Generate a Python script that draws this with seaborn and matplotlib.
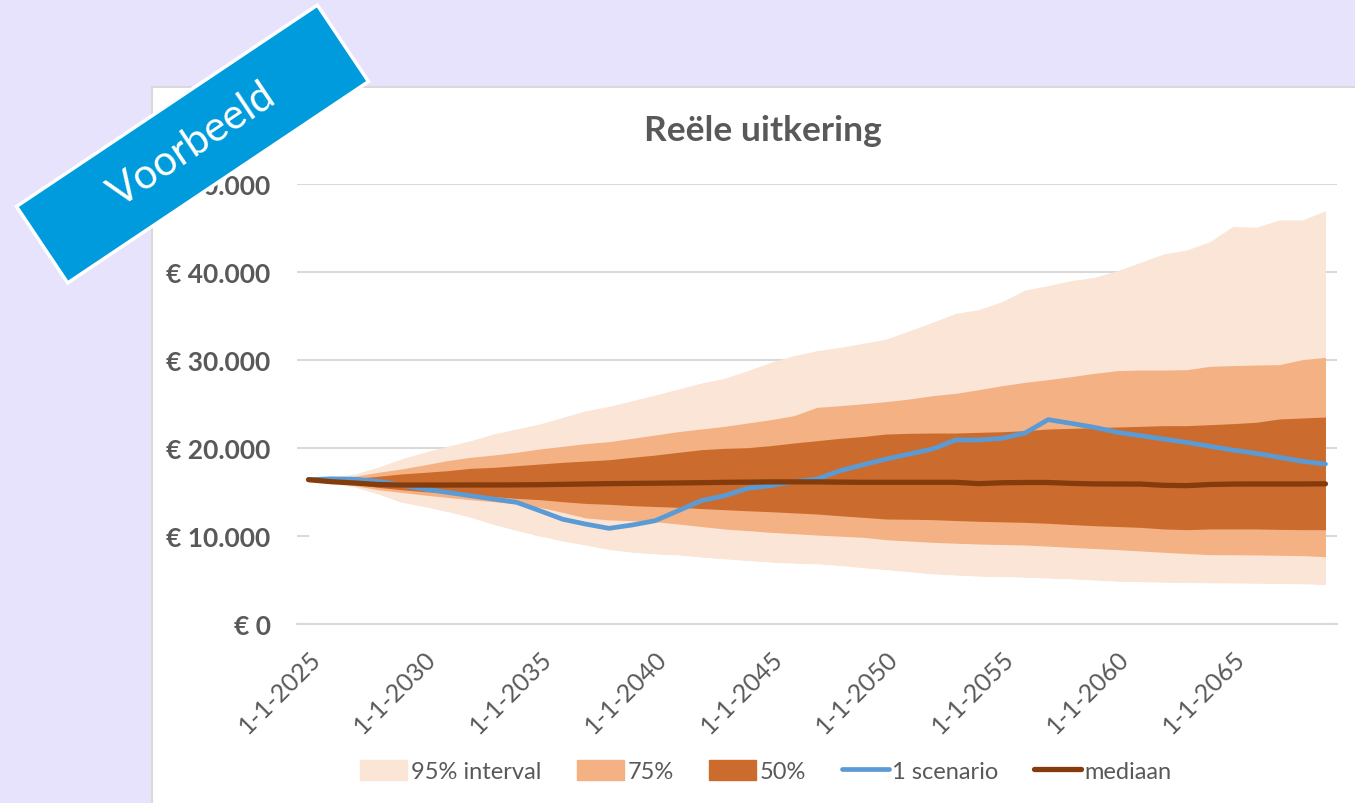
import numpy as np
import pandas as pd
import seaborn as sns
import matplotlib.pyplot as plt
from matplotlib.patches import Patch, Polygon, Rectangle
from matplotlib.lines import Line2D

sns.set_theme(style="white")
plt.rcParams['font.family'] = ['Lato', 'DejaVu Sans']

# data
years = list(range(2025, 2070))
upper95 = [16400, 16670, 17050, 17800, 18750, 19510, 20190, 20830, 21590, 22160, 22730, 23480, 24240,
           24730, 25380, 26020, 26700, 27390, 27920, 28790, 29740, 30500, 31060, 31440, 31900,
           32390, 33330, 34280, 35300, 35720, 36630, 37950, 38450, 39020, 39390, 40150, 41100, 42050,
           42500, 43450, 45190, 45080, 45910, 45910, 46970]
upper75 = [16400, 16550, 16780, 17230, 17610, 18070, 18560, 18940, 19200, 19510, 19890, 20190, 20500,
           20720, 21100, 21480, 21860, 22160, 22460, 22840, 23220, 23670, 24620, 24810, 25030,
           25270, 25570, 25950, 26210, 26630, 27080, 27460, 27770, 28110, 28480, 28790, 28860, 28860,
           28900, 29280, 29360, 29430, 29470, 30040, 30300]
upper50 = [16400, 16480, 16550, 16780, 17050, 17230, 17420, 17690, 17800, 17990, 18180, 18370, 18520,
           18670, 18940, 19200, 19510, 19810, 19960, 20040, 20270, 20570, 20830, 21100, 21310,
           21590, 21670, 21700, 21700, 21780, 21850, 21970, 22160, 22230, 22310, 22390, 22460, 22540,
           22540, 22650, 22770, 22920, 23300, 23410, 23520]
lower50 = [16400, 16120, 15880, 15530, 15260, 15040, 14890, 14660, 14470, 14280, 14130, 13900, 13700,
           13600, 13450, 13350, 13260, 13120, 12990, 12870, 12760, 12630, 12500, 12300, 12120,
           11930, 11900, 11860, 11760, 11670, 11610, 11550, 11440, 11300, 11170, 11080, 10980, 10800,
           10720, 10800, 10800, 10800, 10750, 10720, 10720]
lower75 = [16400, 16100, 15720, 15260, 14960, 14660, 14390, 14130, 13900, 13640, 13260, 12690, 12050,
           11830, 11740, 11620, 11360, 11080, 10800, 10610, 10420, 10270, 10110, 9980, 9850,
           9580, 9430, 9280, 9180, 9090, 9030, 8980, 8850, 8710, 8580, 8450, 8300, 8150,
           8010, 7880, 7870, 7850, 7810, 7770, 7650]
lower95 = [16400, 16020, 15530, 14770, 13830, 13330, 12760, 12120, 11300, 10600, 10000, 9400, 8950,
           8450, 8140, 7950, 7840, 7580, 7390, 7200, 7010, 6900, 6820, 6630, 6380,
           6170, 5920, 5680, 5550, 5420, 5360, 5300, 5200, 5110, 4980, 4850, 4790, 4730,
           4700, 4660, 4640, 4620, 4580, 4550, 4470]
mediaan = [16400, 16170, 16020, 15850, 15790, 15790, 15790, 15800, 15800, 15810, 15830, 15870, 15910,
           15950, 15980, 16000, 16030, 16060, 16100, 16120, 16150, 16150, 16150, 16120, 16100,
           16100, 16100, 16100, 16100, 15950, 16050, 16080, 16080, 15980, 15920, 15910, 15900, 15760,
           15720, 15850, 15900, 15910, 15910, 15910, 15930]
scenario = [16400, 16500, 16450, 16210, 15790, 15340, 14960, 14580, 14200, 13830, 12880, 11900, 11350,
            10870, 11250, 11740, 12880, 14020, 14580, 15420, 15720, 16170, 16480, 17420, 18100,
            18750, 19320, 19890, 20910, 20910, 21100, 21700, 23220, 22800, 22350, 21780, 21400, 21020,
            20640, 20190, 19770, 19390, 18940, 18490, 18180]
tick_years = [2025, 2030, 2035, 2040, 2045, 2050, 2055, 2060, 2065]
y_ticks = [0, 10000, 20000, 30000, 40000, 50000]

df = pd.DataFrame({"jaar": years, "scenario": scenario, "mediaan": mediaan})

W, H = 1355, 804
grey = '#595959'
c95, c75, c50 = '#FAE5D7', '#F4B183', '#CB6C2E'
c_blue, c_med = '#5B9BD5', '#843C0C'

fig = plt.figure(figsize=(W / 100, H / 100), dpi=100)
fig.patch.set_facecolor('#E7E3FC')

# white chart panel
fig.add_artist(Rectangle((152 / W, -0.05), 1.0, 1 - 88 / H + 0.05, transform=fig.transFigure,
                         facecolor='white', edgecolor='#D9D9D9', linewidth=1.5, zorder=-5))

ax = fig.add_axes([297 / W, 1 - 625 / H, 1040 / W, 440 / H])
ax.set_facecolor('white')

ax.fill_between(years, lower95, upper95, color=c95, lw=0, label='95% interval')
ax.fill_between(years, lower75, upper75, color=c75, lw=0, label='75%')
ax.fill_between(years, lower50, upper50, color=c50, lw=0, label='50%')
ax.fill_between(years, 0, lower95, color='white', lw=0)

sns.lineplot(data=df, x='jaar', y='scenario', ax=ax, color=c_blue, lw=3.4,
             solid_capstyle='round', legend=False)
sns.lineplot(data=df, x='jaar', y='mediaan', ax=ax, color=c_med, lw=3.8,
             solid_capstyle='round', legend=False)

ax.set_xlim(2024.5, 2069.5)
ax.set_ylim(0, 50000)
ax.set_xlabel('')
ax.set_ylabel('')

ax.set_yticks(y_ticks)
ax.set_yticklabels(['€ ' + f"{v:,}".replace(',', '.') for v in y_ticks],
                   fontsize=19, fontweight='bold', color=grey)
ax.set_xticks(tick_years)
ax.set_xticklabels([f"1-1-{y}" for y in tick_years], rotation=45, ha='right',
                   rotation_mode='anchor', fontsize=18, color=grey)
ax.tick_params(axis='y', length=0, pad=19)
ax.tick_params(axis='x', length=0, pad=16)

ax.yaxis.grid(True, color='#D9D9D9', lw=1.5)
ax.set_axisbelow(True)
sns.despine(ax=ax, left=True, top=True, right=True)
ax.spines['bottom'].set_color('#D9D9D9')
ax.spines['bottom'].set_linewidth(1.5)

fig.text(763 / W, 1 - 131 / H, "Reële uitkering", ha='center', va='center',
         fontsize=25.5, fontweight='bold', color=grey)

handles = [Patch(color=c95), Patch(color=c75), Patch(color=c50),
           Line2D([], [], color=c_blue, lw=3.4, solid_capstyle='round'),
           Line2D([], [], color=c_med, lw=3.8, solid_capstyle='round')]
labels = ['95% interval', '75%', '50%', '1 scenario', 'mediaan']
fig.legend(handles, labels, loc='center', bbox_to_anchor=(766 / W, 1 - 772 / H), ncol=5,
           frameon=False, fontsize=17, handlelength=2.0, handleheight=0.9, handletextpad=0.15,
           columnspacing=1.5, labelcolor=grey)

# "Voorbeeld" banner
cx, cy = 192.5, 145.0
ang = np.deg2rad(33.8)
u = np.array([np.cos(ang), -np.sin(ang)])
v = np.array([np.sin(ang), np.cos(ang)])
hl, hw = 181, 46
corners = [np.array([cx, cy]) + s1 * hl * u + s2 * hw * v
           for s1, s2 in [(-1, -1), (1, -1), (1, 1), (-1, 1)]]
corners = [(p[0] / W, 1 - p[1] / H) for p in corners]
fig.add_artist(Polygon(corners, closed=True, transform=fig.transFigure, facecolor='#009BDD',
                       edgecolor='white', linewidth=2.5, zorder=10))
fig.text(cx / W, 1 - cy / H, "Voorbeeld", rotation=33.8, ha='center', va='center',
         rotation_mode='anchor', fontsize=30, color='white', zorder=11)

fig.savefig('out.png', dpi=100, facecolor=fig.get_facecolor())
